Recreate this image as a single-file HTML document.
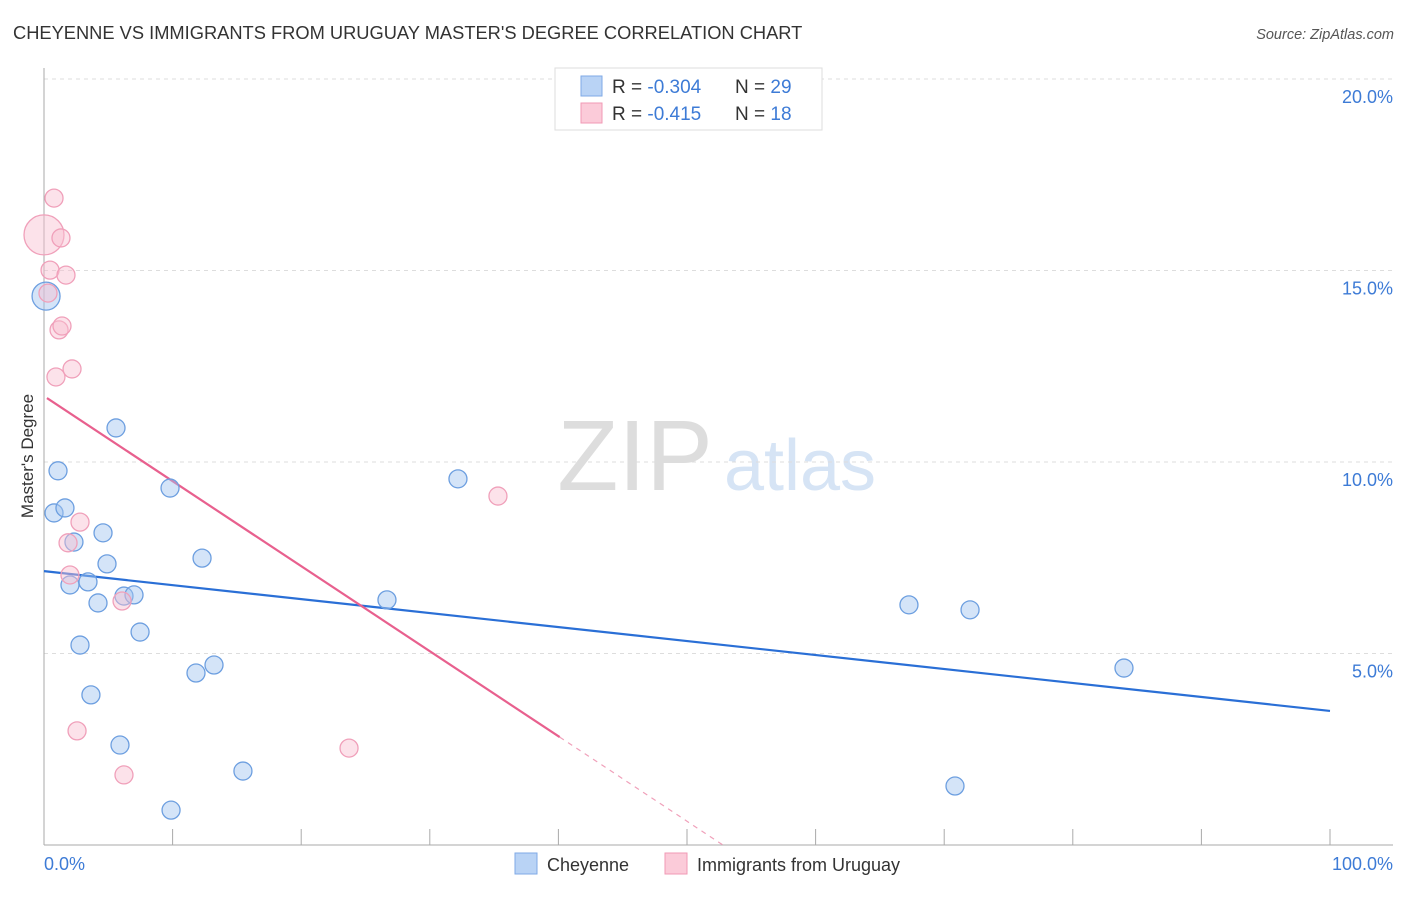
<!DOCTYPE html>
<html><head><meta charset="utf-8"><style>
body{margin:0;background:#fff;font-family:"Liberation Sans",sans-serif;}
svg text{font-family:"Liberation Sans",sans-serif;}
</style></head><body>
<svg id="c" width="1406" height="892" xmlns="http://www.w3.org/2000/svg">
<text x="13" y="39" font-size="18.3" fill="#333">CHEYENNE VS IMMIGRANTS FROM URUGUAY MASTER'S DEGREE CORRELATION CHART</text>
<text x="1394" y="39" font-size="14.5" fill="#555" font-style="italic" text-anchor="end">Source: ZipAtlas.com</text>
<g>
<text x="635" y="490" font-size="100" fill="#ddd" font-family="Liberation Serif" text-anchor="middle">ZIP</text>
<text x="800" y="490" font-size="72" fill="#d6e4f5" text-anchor="middle">atlas</text>
</g>
<g id="grid"></g>
<g id="axes"></g>
<text transform="translate(33,456) rotate(-90)" font-size="17" fill="#333" text-anchor="middle">Master's Degree</text>
<g id="lines"></g>
<g id="pts"></g>
<g>
<rect x="555" y="68" width="267" height="62" fill="#fff" stroke="#ddd"/>
<rect x="581" y="76" width="21" height="20" fill="#b9d3f5" stroke="#7fa9e6"/>
<rect x="581" y="103" width="21" height="20" fill="#fbcbd9" stroke="#f09ab5"/>
<text x="612" y="93" font-size="19" fill="#333">R = <tspan fill="#3d7bd6">-0.304</tspan><tspan x="735">N = </tspan><tspan fill="#3d7bd6">29</tspan></text>
<text x="612" y="120" font-size="19" fill="#333">R = <tspan fill="#3d7bd6"> -0.415</tspan><tspan x="735">N = </tspan><tspan fill="#3d7bd6"> 18</tspan></text>
</g>
<g>
<rect x="515" y="853" width="22" height="21" fill="#b9d3f5" stroke="#7fa9e6"/>
<text x="547" y="871" font-size="18" fill="#333">Cheyenne</text>
<rect x="665" y="853" width="22" height="21" fill="#fbcbd9" stroke="#f09ab5"/>
<text x="697" y="871" font-size="18" fill="#333">Immigrants from Uruguay</text>
</g>
</svg>
<script>
const blueX=[0.16,5.6,1.09,0.78,1.63,2.33,9.8,4.59,4.9,12.29,2.02,3.42,4.2,6.22,7.0,7.47,2.8,11.82,13.22,3.65,5.91,15.47,9.88,32.19,26.67,67.26,72.01,83.98,70.84];
const blueY=[14.33,10.89,9.77,8.67,8.80,7.91,9.32,8.15,7.34,7.49,6.79,6.87,6.32,6.50,6.53,5.56,5.22,4.49,4.70,3.92,2.61,1.93,0.91,9.56,6.40,6.27,6.14,4.62,1.54];
const pinkX=[0.78,0,1.32,0.47,1.71,0.31,1.17,1.4,0.93,2.18,2.8,1.87,2.02,6.07,2.57,6.22,23.72,35.3];
const pinkY=[16.89,15.93,15.85,15.01,14.88,14.41,13.45,13.55,12.22,12.43,8.43,7.89,7.05,6.37,2.98,1.83,2.53,9.11];
const yTicks=[5,10,15,20];
const yTickLabels=["5.0%","10.0%","15.0%","20.0%"];
const xLabels=["0.0%","100.0%"];
const blueTrend=[7.15,-0.0365];
const pinkTrend=[11.72,-0.222];
const pinkSolidEnd=40.1;
const X=v=>44+v*12.86, Y=v=>845-v*38.3;
const NS="http://www.w3.org/2000/svg";
function mk(tag,attrs,parent){const e=document.createElementNS(NS,tag);for(const k in attrs)e.setAttribute(k,attrs[k]);document.getElementById(parent).appendChild(e);return e;}
yTicks.forEach((t,i)=>{
 const g=mk('line',{x1:44,x2:1393,y1:Y(t),y2:Y(t),stroke:'#ddd','stroke-dasharray':'4,4'},'grid');
 
 
 const tx=mk('text',{x:1393,y:Y(t)+24,'font-size':18,fill:'#3d7bd6','text-anchor':'end'},'grid');
 tx.textContent=yTickLabels[i];
 
 
});
mk('line',{x1:44,x2:1393,y1:79,y2:79,stroke:'#ddd','stroke-dasharray':'4,4'},'grid');
let a=mk('line',{x1:44,x2:44,y1:68,y2:845,stroke:'#aaa'},'axes');


a=mk('line',{x1:44,x2:1393,y1:845,y2:845,stroke:'#aaa'},'axes');


for(let k=1;k<=10;k++){const t=mk('line',{x1:X(k*10),x2:X(k*10),y1:829,y2:845,stroke:'#aaa'},'axes');
 
 }
let xl=mk('text',{x:44,y:870,'font-size':18,fill:'#3d7bd6'},'axes');xl.textContent=xLabels[0];


xl=mk('text',{x:1393,y:870,'font-size':18,fill:'#3d7bd6','text-anchor':'end'},'axes');xl.textContent=xLabels[1];


blueX.forEach((x,i)=>{const c=mk('circle',{cx:X(x),cy:Y(blueY[i]),r:i===0?14:9,fill:'rgba(160,196,240,0.45)',stroke:'#6d9fe0','stroke-width':1.3},'pts');
 
 });
pinkX.forEach((x,i)=>{const c=mk('circle',{cx:X(x),cy:Y(pinkY[i]),r:i===1?20:9,fill:'rgba(248,190,208,0.45)',stroke:'#f0a0ba','stroke-width':1.3},'pts');
 
 });
let l=mk('line',{x1:X(0),y1:Y(blueTrend[0]),x2:X(100),y2:Y(blueTrend[0]+blueTrend[1]*100),stroke:'#2a6fd6','stroke-width':2.2},'lines');


l=mk('line',{x1:X(0.23),y1:Y(pinkTrend[0]+pinkTrend[1]*0.23),x2:X(pinkSolidEnd),y2:Y(pinkTrend[0]+pinkTrend[1]*pinkSolidEnd),stroke:'#e8608e','stroke-width':2.2},'lines');


const zx=-pinkTrend[0]/pinkTrend[1];
l=mk('line',{x1:X(pinkSolidEnd),y1:Y(pinkTrend[0]+pinkTrend[1]*pinkSolidEnd),x2:X(zx),y2:Y(0),stroke:'#f0a0ba','stroke-width':1.2,'stroke-dasharray':'5,5'},'lines');


</script>
</body></html>
